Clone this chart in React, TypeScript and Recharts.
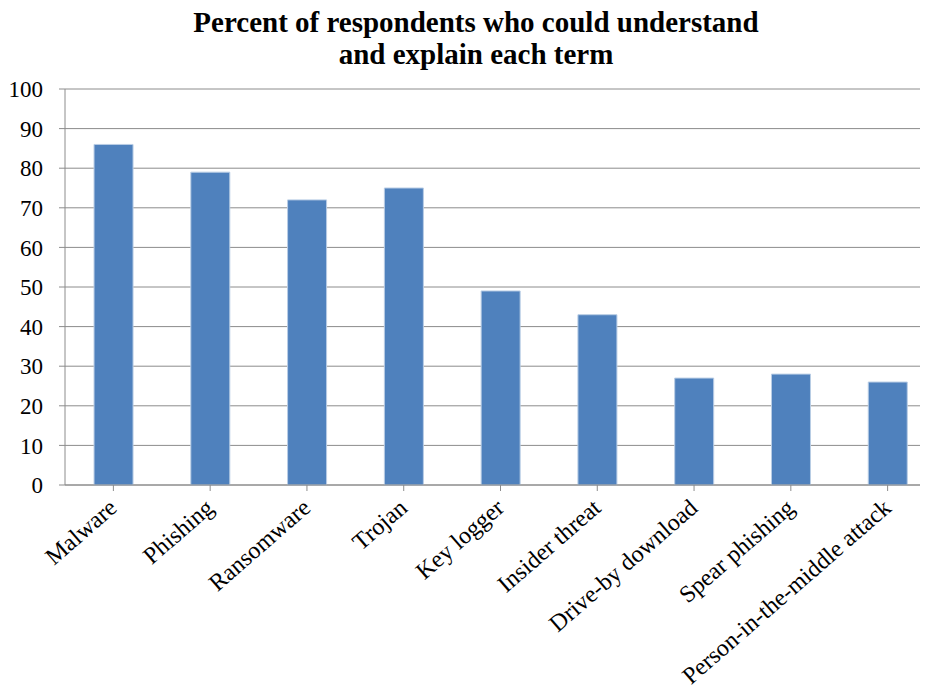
import React from "react";
import { BarChart, Bar, XAxis, YAxis, CartesianGrid } from "recharts";

const terms = [
  "Malware",
  "Phishing",
  "Ransomware",
  "Trojan",
  "Key logger",
  "Insider threat",
  "Drive-by download",
  "Spear phishing",
  "Person-in-the-middle attack",
];
const percents = [86, 79, 72, 75, 49, 43, 27, 28, 26];
const yTicks = [0, 10, 20, 30, 40, 50, 60, 70, 80, 90, 100];

const data = terms.map((term, i) => ({ term, value: percents[i] }));

const FONT = '"Liberation Serif", "Times New Roman", serif';

const TermTick = (props: any) => {
  const { x, y, payload } = props;
  return (
    <g transform={`translate(${x + 5},${y + 19})`}>
      <text
        x={0}
        y={0}
        transform="rotate(-41)"
        textAnchor="end"
        fontFamily={FONT}
        fontSize={24}
        fill="#000"
      >
        {payload.value}
      </text>
    </g>
  );
};

export default function App() {
  return (
    <div style={{ position: "relative", width: 920, height: 684 }}>
      <div
        style={{
          position: "absolute",
          left: 0,
          top: -2,
          width: 936,
          textAlign: "center",
          fontFamily: FONT,
          fontWeight: "bold",
          fontSize: 29,
          lineHeight: "32px",
        }}
      >
        Percent of respondents who could understand
        <br />
        and explain each term
      </div>
      <BarChart
        width={920}
        height={684}
        data={data}
        margin={{ top: 81, right: -8, left: 0, bottom: 57 }}
        barCategoryGap="30%"
      >
        <CartesianGrid vertical={false} stroke="#8c8c8c" />
        <XAxis
          dataKey="term"
          interval={0}
          height={150}
          tick={<TermTick />}
          tickSize={6}
          tickMargin={0}
          axisLine={{ stroke: "#8c8c8c" }}
          tickLine={{ stroke: "#8c8c8c" }}
        />
        <YAxis
          domain={[0, 100]}
          ticks={yTicks}
          width={57}
          tickSize={6}
          tickMargin={16}
          axisLine={{ stroke: "#8c8c8c" }}
          tickLine={{ stroke: "#8c8c8c" }}
          tick={{ fontFamily: FONT, fontSize: 23, fill: "#000" }}
        />
        <Bar
          dataKey="value"
          fill="#4f81bd"
          stroke="#b9cde5"
          strokeWidth={1}
          isAnimationActive={false}
        />
      </BarChart>
    </div>
  );
}
